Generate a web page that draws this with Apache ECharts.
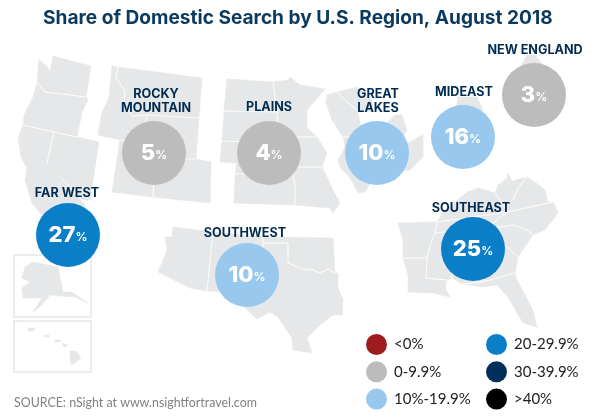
<!DOCTYPE html>
<html>
<head>
<meta charset="utf-8">
<style>html,body{margin:0;padding:0;background:#fff}#container1{width:600px;height:420px}</style>
<script src="https://cdn.jsdelivr.net/npm/echarts@6/dist/echarts.min.js"></script>
</head>
<body>
<div id="container1"></div>
<script>
var myChart = echarts.init(document.getElementById("container1"));
var NAVY = "#002c52", LAND = "#e6e7e8";

// bubble positions are on the picture's own 600x420 grid
var regions = [
  {name:"FAR WEST",      value:27, x:68,  y:235, lx:67,  ly:193},
  {name:"ROCKY\nMOUNTAIN", value:5, x:154, y:153, lx:156, ly:101},
  {name:"PLAINS",        value:4,  x:269, y:153, lx:269, ly:107},
  {name:"GREAT\nLAKES",  value:10, x:377, y:153, lx:378, ly:101},
  {name:"MIDEAST",       value:16, x:463, y:137, lx:464, ly:92},
  {name:"NEW ENGLAND",   value:3,  x:534, y:95,  lx:535, ly:50},
  {name:"SOUTHWEST",     value:10, x:247, y:275, lx:245, ly:233},
  {name:"SOUTHEAST",     value:25, x:473, y:249, lx:471, ly:208}
];

var buckets = [
  {name:"<0%",       color:"#9e1b20", lo:-Infinity, hi:0},
  {name:"0-9.9%",    color:"#bcbcbc", lo:0,  hi:10},
  {name:"10%-19.9%", color:"#98c8ed", lo:10, hi:20},
  {name:"20-29.9%",  color:"#0a7fc7", lo:20, hi:30},
  {name:"30-39.9%",  color:"#002f5b", lo:30, hi:40},
  {name:">40%",      color:"#000000", lo:40, hi:Infinity}
];

// rough state outlines, background only. neighbours share vertices so the
// white border lines can be found from the edges they have in common
var states = [
  [[53,56],[91,66],[86,97],[45,92],[37,83],[39,60],[47,66],[50,72]], // WA
  [[37,83],[45,92],[86,97],[88,100],[82,112],[77,137],[54,132],[23,125],[24,115],[33,97]], // OR
  [[23,125],[54,132],[47,163],[85,205],[82,225],[50,225],[32,203],[25,180],[27,168],[21,157],[18,138]], // CA
  [[54,132],[77,137],[99,142],[92,187],[90,200],[83,200],[47,163]], // NV
  [[112,66],[118,67],[116,78],[125,91],[124,103],[132,116],[147,115],[143,144],[120,140],[98,135],[102,112],[109,98]], // ID
  [[118,67],[202,78],[199,118],[147,115],[132,116],[124,103],[125,91],[116,78]], // MT
  [[147,115],[199,118],[196,159],[186,159],[155,157],[142,155],[143,144]], // WY
  [[120,140],[143,144],[142,155],[155,157],[153,197],[112,192]], // UT
  [[155,157],[186,159],[196,159],[211,162],[210,203],[153,197]], // CO
  [[227,79],[273,82],[277,112],[224,111]], // ND
  [[273,82],[288,80],[290,77],[300,85],[325,89],[307,110],[307,128],[317,137],[279,137],[277,112]], // MN
  [[224,111],[277,112],[279,137],[282,143],[222,141]], // SD
  [[222,141],[282,143],[290,167],[293,174],[235,174],[237,163],[220,162]], // NE
  [[279,137],[317,137],[327,153],[322,167],[290,167],[282,143]], // IA
  [[235,174],[293,174],[295,187],[295,205],[234,203]], // KS
  [[290,167],[322,167],[333,190],[340,203],[333,213],[330,208],[295,205],[295,187],[293,174]], // MO
  [[327,95],[337,92],[345,100],[357,110],[360,122],[365,137],[343,137],[332,120],[326,103]], // WI
  [[337,92],[358,87],[372,100],[372,112],[357,110],[345,100]], // MI upper
  [[343,137],[365,137],[375,175],[365,192],[358,193],[350,178],[340,167],[338,160],[345,147]], // IL
  [[365,137],[392,137],[395,172],[375,175]], // IN
  [[385,125],[395,115],[402,115],[407,130],[400,143],[392,137],[383,137]], // MI
  [[392,137],[400,143],[408,143],[423,135],[423,157],[410,170],[395,172]], // OH
  [[458,97],[477,97],[483,110],[475,125],[455,120]], // NY
  [[522,64],[527,55],[535,55],[542,64],[534,90]], // ME
  [[173,227],[213,232],[207,291],[190,288],[158,272],[163,260],[167,250],[165,237],[172,237]], // AZ
  [[213,232],[263,237],[263,243],[261,292],[233,292],[207,291]], // NM
  [[263,237],[333,238],[335,273],[328,269],[320,273],[313,270],[303,269],[288,263],[288,243],[263,243]], // OK
  [[263,243],[288,243],[288,263],[303,269],[313,270],[320,273],[328,269],[335,273],[338,273],[338,288],[343,300],[342,315],[333,315],[320,325],[307,338],[312,353],[293,350],[292,338],[278,317],[270,312],[257,319],[245,308],[233,292],[261,292]], // TX
  [[398,223],[437,222],[435,233],[431,242],[427,258],[403,258],[403,240]], // AR
  [[403,258],[427,258],[426,278],[447,280],[445,288],[450,297],[433,293],[408,292],[408,275]], // LA
  [[435,233],[455,231],[452,278],[447,280],[426,278],[427,258],[431,242]], // MS
  [[455,231],[475,229],[482,282],[462,284],[452,278]], // AL
  [[437,222],[443,212],[467,192],[478,188],[495,193],[503,205],[508,212]], // KY
  [[437,222],[508,212],[490,225],[475,229],[455,231],[435,233]], // TN
  [[495,193],[498,185],[507,178],[508,173],[512,181],[527,177],[518,188],[513,200],[503,205]], // WV
  [[527,177],[535,182],[545,190],[548,202],[553,202],[508,212],[503,205],[513,200],[518,188]], // VA
  [[553,202],[558,213],[545,230],[533,235],[527,230],[513,225],[500,227],[490,225],[508,212]], // NC
  [[500,227],[513,225],[527,230],[533,235],[518,257],[500,240]], // SC
  [[490,225],[500,227],[500,240],[518,257],[515,273],[482,282],[475,229]], // GA
  [[462,284],[482,282],[515,273],[517,280],[533,310],[537,327],[523,323],[508,297],[497,285],[483,287]], // FL
  [[33,262],[58,267],[63,292],[72,292],[88,303],[75,297],[62,296],[50,295],[42,305],[33,312],[42,298],[23,298],[22,288],[30,282],[22,278],[25,267]], // AK
  [[28,328],[34,328],[34,331],[28,331]], // HI
  [[45,335],[49,335],[49,337],[45,337]],
  [[55,340],[60,340],[60,342],[55,342]],
  [[62,343],[68,345],[64,347]],
  [[70,351],[76,351],[81,358],[72,365],[70,360]]
];
var insets = [
  [[14,255],[91,255],[91,317],[14,317]],
  [[14,321],[91,321],[91,372],[14,372]]
];

// edges used by two states
var seen = {}, borders = [];
states.forEach(function(s){
  s.forEach(function(p, i){
    var q = s[(i + 1) % s.length];
    var a = p.join(), b = q.join();
    var key = a < b ? a + '|' + b : b + '|' + a;
    if (seen[key]) { borders.push([p, q]); }
    seen[key] = true;
  });
});

function shapeSeries(list, type, style, z){
  return {
    type: 'custom',
    silent: true,
    clip: false,
    z: z,
    data: list.map(function(p, i){ return [i]; }),
    renderItem: function(params, api){
      var pts = list[api.value(0)].map(function(p){ return api.coord(p); });
      return {type:type, shape:{points:pts}, style:style};
    }
  };
}

var series = [
  shapeSeries(insets, 'polygon', {fill:'#fff', stroke:LAND, lineWidth:1.5}, 1),
  shapeSeries(states, 'polygon', {fill:LAND, stroke:LAND, lineWidth:0.6}, 1),
  shapeSeries(borders, 'polyline', {fill:null, stroke:'#fff', lineWidth:0.9}, 2)
];

buckets.forEach(function(b){
  series.push({
    type: 'scatter',
    name: b.name,
    z: 3,
    silent: true,
    symbolSize: 64,
    itemStyle: {color: b.color, opacity: 1},
    label: {
      show: true,
      position: 'inside',
      textBorderColor: 'transparent',
      textBorderWidth: 0,
      formatter: function(p){ return '{n|' + p.data[2] + '}{p|%}'; },
      rich: {
        n: {color:'#fff', fontFamily:'Inter', fontWeight:800, fontSize:22, textBorderColor:'transparent'},
        p: {color:'#fff', fontFamily:'Inter', fontWeight:600, fontSize:12, padding:[5,0,0,0], textBorderColor:'transparent'}
      }
    },
    data: regions.filter(function(r){ return r.value >= b.lo && r.value < b.hi; })
                 .map(function(r){ return [r.x, r.y, r.value]; })
  });
});

series.push({
  type: 'scatter',
  z: 4,
  silent: true,
  symbolSize: 0,
  itemStyle: {opacity: 1}, // scatter default of 0.8 washes the labels out
  label: {
    show: true,
    position: 'inside',
    formatter: function(p){ return p.data[2]; },
    color: NAVY,
    textBorderColor: 'transparent',
    textBorderWidth: 0,
    fontFamily: 'Inter',
    fontWeight: 700,
    fontSize: 12.6,
    lineHeight: 14
  },
  data: regions.map(function(r){ return [r.lx, r.ly, r.name]; })
});

var legendBase = {
  orient: 'vertical',
  padding: 0,
  itemWidth: 21,
  itemHeight: 21,
  itemGap: 6.3,
  icon: 'circle',
  selectedMode: false,
  textStyle: {fontFamily:'Lato', fontSize:15, color:'#222', padding:[0,0,0,2]}
};

var option = {
  animation: false,
  title: [
    {text:'Share of Domestic Search by U.S. Region, August 2018', left:43, top:9, padding:0,
     textStyle:{fontFamily:'Inter', fontWeight:700, fontSize:19.1, color:'#0b3a5e'}},
    {text:'SOURCE: nSight at www.nsightfortravel.com', left:14, top:397, padding:0,
     textStyle:{fontFamily:'Lato', fontWeight:400, fontSize:12.4, color:'#808285'}}
  ],
  grid: {left:0, right:0, top:0, bottom:0},
  xAxis: {type:'value', min:0, max:600, show:false},
  yAxis: {type:'value', min:0, max:420, inverse:true, show:false},
  legend: [
    Object.assign({}, legendBase, {left:366, top:334, data:['<0%','0-9.9%','10%-19.9%']}),
    Object.assign({}, legendBase, {left:486, top:334, data:['20-29.9%','30-39.9%','>40%']})
  ],
  series: series
};
myChart.setOption(option);
</script>
</body>
</html>
